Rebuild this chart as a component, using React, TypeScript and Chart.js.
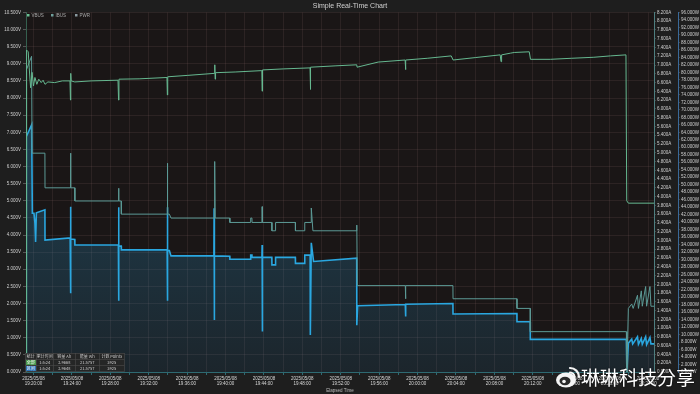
import React, { useEffect, useRef } from "react";
import { Chart, registerables } from "chart.js";

Chart.register(...registerables);

// ---------- data (time in minutes after 2025/05/08 19:20:00) ----------
const DATE_LABEL = "2025/05/08";
const START_MINUTE_OF_DAY = 19 * 60 + 20;
const X_MIN = -0.78;
const X_MAX = 64.62;

const vbusT = [
  -0.78, -0.72, -0.55, -0.45, -0.3, -0.15, 0.0, 0.15, 0.35, 0.55, 0.8, 1.0, 1.2, 1.5, 2.2, 3.0, 3.8, 3.85, 3.88,
  3.92, 4.3, 6.0, 8.8, 8.86, 8.9, 11.0, 13.9, 13.94, 13.98, 16.0, 18.85, 18.88, 18.92, 18.96, 21.0, 23.78, 23.81,
  23.85, 26.0, 28.8, 28.83, 28.87, 31.5, 33.66, 33.7, 35.9, 38.7, 38.74, 38.78, 41.0, 43.5, 43.7, 46.0, 48.6,
  48.69, 48.75, 49.68, 50.07, 51.63, 51.76, 53.83, 56.0, 58.36, 60.08, 61.7, 61.78, 61.95, 64.62,
];
const vbusV = [
  0, 9.4, 9.35, 8.9, 8.3, 8.75, 8.35, 8.6, 8.4, 8.55, 8.45, 8.52, 8.4, 8.47, 8.45, 8.5, 8.5, 7.94, 8.72, 8.5,
  8.47, 8.5, 8.52, 7.94, 8.55, 8.56, 8.6, 8.09, 8.62, 8.66, 8.72, 8.97, 8.55, 8.74, 8.76, 8.8, 8.2, 8.82, 8.85,
  8.88, 8.25, 8.9, 8.94, 8.97, 8.9, 9.05, 9.11, 8.83, 9.11, 9.16, 9.23, 9.11, 9.18, 9.26, 9.06, 9.26, 9.31, 9.33,
  9.35, 9.13, 9.13, 9.16, 9.19, 9.23, 9.26, 5.0, 4.93, 4.93,
];

const ibusT = [
  -0.78, -0.72, -0.2, -0.15, 1.19, 1.2, 3.82, 3.85, 3.9, 4.3, 4.31, 8.84, 8.86, 8.9, 9.14, 9.15, 13.92, 13.94,
  13.98, 14.15, 14.32, 18.85, 18.87, 18.92, 20.44, 20.45, 22.61, 22.62, 22.75, 22.76, 23.79, 23.81, 23.85, 24.82,
  24.83, 25.2, 25.21, 27.27, 27.28, 28.24, 28.25, 28.9, 28.93, 29.1, 33.66, 33.67, 33.72, 38.72, 38.74, 38.78,
  43.68, 43.69, 50.34, 50.35, 51.73, 51.74, 61.74, 61.8, 61.95, 62.3, 62.45, 62.9, 63.0, 63.3, 63.4, 63.75,
  63.85, 64.2, 64.3, 64.62,
];
const ibusA = [
  0, 6.9, 7.2, 4.99, 4.99, 4.2, 4.2, 4.99, 4.2, 4.2, 3.9, 3.9, 4.19, 3.9, 3.9, 3.6, 3.6, 4.76, 3.6, 3.6, 3.51,
  3.51, 4.8, 3.51, 3.51, 3.41, 3.41, 3.51, 3.51, 3.41, 3.41, 3.77, 3.41, 3.41, 3.22, 3.22, 3.41, 3.41, 3.22,
  3.22, 3.41, 3.41, 3.74, 3.22, 3.22, 3.35, 1.97, 1.97, 1.67, 1.97, 1.97, 1.67, 1.67, 1.45, 1.45, 0.92, 0.92, 0,
  1.45, 1.55, 1.45, 1.75, 1.45, 1.85, 1.5, 1.95, 1.5, 1.95, 1.5, 1.5,
];

const pwrT = [
  -0.78, -0.75, -0.19, -0.12, 0.05, 0.15, 0.22, 0.3, 1.19, 1.2, 3.82, 3.85, 3.87, 3.9, 4.3, 4.31, 8.84, 8.86,
  8.88, 8.9, 9.14, 9.15, 13.92, 13.94, 13.96, 13.98, 14.15, 14.32, 18.79, 18.81, 18.83, 18.85, 20.44, 20.45,
  22.61, 22.62, 22.75, 22.76, 23.79, 23.81, 23.83, 23.85, 24.82, 24.83, 25.2, 25.21, 27.27, 27.28, 28.24, 28.25,
  28.81, 28.83, 28.93, 29.17, 33.66, 33.67, 33.76, 38.72, 38.74, 38.78, 43.68, 43.69, 50.34, 50.35, 51.73, 51.74,
  61.74, 61.8, 61.95, 62.3, 62.4, 62.9, 63.0, 63.3, 63.4, 63.75, 63.85, 64.2, 64.3, 64.62,
];
const pwrW = [
  0, 62.8, 66.0, 42.4, 42.4, 39.7, 34.7, 42.5, 43.3, 35.2, 35.8, 44.1, 21.0, 35.5, 35.4, 33.9, 33.9, 44.0, 19.0,
  33.6, 33.6, 32.6, 32.6, 44.0, 19.0, 32.4, 32.4, 31.0, 31.0, 43.7, 13.9, 31.0, 30.9, 30.1, 30.1, 31.2, 31.2,
  30.6, 30.6, 33.9, 10.8, 30.6, 30.6, 28.6, 28.6, 30.6, 30.6, 29.0, 29.0, 31.2, 31.2, 9.9, 34.5, 29.5, 30.4,
  12.5, 17.7, 18.0, 14.8, 18.1, 18.3, 15.5, 15.6, 13.4, 13.4, 8.7, 8.7, 0, 7.7, 8.8, 7.5, 9.4, 7.4, 9.0, 7.4, 9.4,
  7.3, 9.2, 7.5, 7.5,
];

const statsHeader = ["统计", "累计时间", "容量 Ah", "能量 Wh", "计数 Points"];
const statsRows = [
  ["全部", "1:5:24", "2.9668", "21.5757", "3925"],
  ["区间", "1:5:24", "2.9648", "21.5757", "3925"],
];
const legendItems = [
  { label: "VBUS", color: "#6cc093" },
  { label: "IBUS", color: "#6f9f9b" },
  { label: "PWR", color: "#8a9aa0" },
];

// ---------- style ----------
const FONT = "'Liberation Sans', Arial, sans-serif";
const GRID = "rgba(120,88,88,0.2)";
const TXT = "#cfcfcf";
const TICK_FONT = { size: 4.5, family: FONT };

const range = (min: number, max: number, step: number) => {
  const out: number[] = [];
  const n = Math.round((max - min) / step);
  for (let i = 0; i <= n; i++) out.push(+(min + i * step).toFixed(4));
  return out;
};

const fmtTime = (m: number) => {
  const total = Math.round((START_MINUTE_OF_DAY + m) * 60);
  const h = Math.floor(total / 3600);
  const mi = Math.floor((total % 3600) / 60);
  const s = total % 60;
  const p = (v: number) => String(v).padStart(2, "0");
  return `${p(h)}:${p(mi)}:${p(s)}`;
};

const Tiny = ({ x, y, children, style }: any) => (
  <div
    style={{
      position: "absolute",
      left: x,
      top: y,
      transform: "scale(0.5)",
      transformOrigin: "0 0",
      whiteSpace: "nowrap",
      fontFamily: FONT,
      ...style,
    }}
  >
    {children}
  </div>
);

export default function App() {
  const ref = useRef<HTMLCanvasElement>(null);

  useEffect(() => {
    const canvas = ref.current!;
    const pts = (t: number[], v: number[]) => t.map((x, i) => ({ x, y: v[i] }));

    const bgPlugin = {
      id: "bgPlugin",
      beforeDraw(chart: any) {
        const { ctx, chartArea: a, width, height } = chart;
        ctx.save();
        ctx.fillStyle = "#1e1e1e";
        ctx.fillRect(0, 0, width, height);
        if (a) {
          ctx.fillStyle = "#1a1616";
          ctx.fillRect(a.left, a.top, a.right - a.left, a.bottom - a.top);
        }
        ctx.restore();
      },
    };

    const setTicks = (vals: number[]) => (s: any) => {
      s.ticks = vals.map((v) => ({ value: v }));
    };

    const chart = new Chart(canvas, {
      type: "line",
      data: {
        datasets: [
          {
            label: "VBUS",
            data: pts(vbusT, vbusV),
            yAxisID: "yV",
            borderColor: "#66b890",
            borderWidth: 1,
            pointRadius: 0,
            fill: false,
            tension: 0,
          },
          {
            label: "IBUS",
            data: pts(ibusT, ibusA),
            yAxisID: "yA",
            borderColor: "#5c9a96",
            borderWidth: 1,
            pointRadius: 0,
            fill: false,
            tension: 0,
          },
          {
            label: "PWR",
            data: pts(pwrT, pwrW),
            yAxisID: "yW",
            borderColor: "#2aa7e0",
            borderWidth: 1.6,
            pointRadius: 0,
            tension: 0,
            fill: "origin",
            backgroundColor: (c: any) => {
              const a = c.chart.chartArea;
              if (!a) return "rgba(40,140,190,0.25)";
              const g = c.chart.ctx.createLinearGradient(0, a.top, 0, a.bottom);
              g.addColorStop(0, "rgba(40,140,190,0.45)");
              g.addColorStop(1, "rgba(40,140,190,0.13)");
              return g;
            },
          },
        ],
      },
      options: {
        responsive: false,
        animation: false,
        devicePixelRatio: 1,
        layout: { padding: 0 },
        plugins: {
          legend: { display: false },
          tooltip: { enabled: false },
          title: {
            display: true,
            text: "Simple Real-Time Chart",
            color: "#d0d0d0",
            font: { size: 7, family: FONT, weight: "normal" },
            padding: { top: 2, bottom: 2 },
          },
        },
        scales: {
          x: {
            type: "linear",
            min: X_MIN,
            max: X_MAX,
            afterBuildTicks: setTicks(range(0, 64, 2)),
            afterFit: (s: any) => {
              s.height = 22;
            },
            ticks: {
              autoSkip: false,
              maxRotation: 0,
              color: "#d8d8d8",
              font: TICK_FONT,
              padding: 1,
              callback: (v: any) => (Math.round(Number(v)) % 4 === 0 ? [DATE_LABEL, fmtTime(Number(v))] : ""),
            },
            grid: { color: GRID, tickLength: 3, tickColor: "#2e6a72" },
            border: { color: "#2e6a72" },
            title: {
              display: true,
              text: "Elapsed Time",
              color: "#bdbdbd",
              font: TICK_FONT,
              padding: { top: 1, bottom: 1 },
            },
          },
          yV: {
            type: "linear",
            position: "left",
            min: 0,
            max: 10.5,
            afterBuildTicks: setTicks(range(0, 10.5, 0.5)),
            afterFit: (s: any) => {
              s.width = 26;
            },
            ticks: {
              autoSkip: false,
              color: TXT,
              font: TICK_FONT,
              padding: 2,
              callback: (v: any) => Number(v).toFixed(3) + "V",
            },
            grid: { color: GRID, tickLength: 3, tickColor: "#555" },
            border: { color: "#35604f" },
          },
          yA: {
            type: "linear",
            position: "right",
            min: 0,
            max: 8.2,
            afterBuildTicks: setTicks(range(0, 8.2, 0.2)),
            afterFit: (s: any) => {
              s.width = 24;
            },
            ticks: {
              autoSkip: false,
              color: TXT,
              font: TICK_FONT,
              padding: 1,
              callback: (v: any) => Number(v).toFixed(3) + "A",
            },
            grid: { drawOnChartArea: false, tickLength: 2, tickColor: "#444" },
            border: { color: "#4f7f80" },
          },
          yW: {
            type: "linear",
            position: "right",
            min: 0,
            max: 96,
            afterBuildTicks: setTicks(range(0, 96, 2)),
            afterFit: (s: any) => {
              s.width = 22;
            },
            ticks: {
              autoSkip: false,
              color: TXT,
              font: TICK_FONT,
              padding: 1,
              callback: (v: any) => Number(v).toFixed(3) + "W",
            },
            grid: { drawOnChartArea: false, tickLength: 2, tickColor: "#444" },
            border: { color: "#3a6a9a" },
          },
        },
      } as any,
      plugins: [bgPlugin],
    });
    return () => chart.destroy();
  }, []);

  const colW = [22, 34, 44, 48, 50];

  return (
    <div style={{ position: "fixed", left: 0, top: 0, width: 700, height: 394, background: "#1e1e1e", overflow: "hidden" }}>
      <canvas ref={ref} width={700} height={394} style={{ display: "block", width: 700, height: 394 }} />

      {/* legend */}
      {legendItems.map((it, i) => (
        <Tiny key={it.label} x={27 + i * 24} y={13.3} style={{ color: "#a8a8a8", fontSize: 9, lineHeight: "10px" }}>
          <span
            style={{
              display: "inline-block",
              width: 5,
              height: 5,
              background: it.color,
              marginRight: 4,
              verticalAlign: "middle",
              position: "relative",
              top: -1,
            }}
          />
          {it.label}
        </Tiny>
      ))}

      {/* stats table */}
      <Tiny x={25} y={353} style={{ fontSize: 8, color: "#d0d0d0" }}>
        <table
          style={{
            borderCollapse: "collapse",
            background: "rgba(38,38,38,0.92)",
            fontFamily: "'Noto Sans CJK SC', " + FONT,
            fontSize: 8,
            tableLayout: "fixed",
            width: colW.reduce((a, b) => a + b, 0),
          }}
        >
          <colgroup>
            {colW.map((w, i) => (
              <col key={i} style={{ width: w }} />
            ))}
          </colgroup>
          <tbody>
            {[statsHeader, ...statsRows].map((r, ri) => (
              <tr key={ri}>
                {r.map((c, ci) => (
                  <td
                    key={ci}
                    style={{
                      height: 11,
                      padding: 0,
                      border: "1px solid #555",
                      lineHeight: "11px",
                      textAlign: "center",
                      overflow: "hidden",
                      whiteSpace: "nowrap",
                      color: ri === 0 ? "#c8c8c8" : ci === 0 ? "#fff" : "#d6d6d6",
                      background:
                        ri > 0 && ci === 0 ? (ri === 1 ? "#4a9a4e" : "#2f74b8") : "transparent",
                    }}
                  >
                    {c}
                  </td>
                ))}
              </tr>
            ))}
          </tbody>
        </table>
      </Tiny>

      {/* watermark */}
      <div style={{ position: "absolute", left: 555, top: 365, width: 26, height: 24 }}>
        <svg width="26" height="24" viewBox="0 0 26 24">
          <ellipse cx="11" cy="15" rx="10" ry="7.5" fill="#f4f4f4" />
          <ellipse cx="10" cy="16" rx="5.5" ry="4.2" fill="#2a2a2a" />
          <circle cx="9" cy="16.5" r="1.8" fill="#f4f4f4" />
          <path d="M15 3 A9 9 0 0 1 24 12" stroke="#f4f4f4" strokeWidth="2.2" fill="none" strokeLinecap="round" />
          <path d="M15 7.5 A4.5 4.5 0 0 1 19.5 12" stroke="#f4f4f4" strokeWidth="2" fill="none" strokeLinecap="round" />
        </svg>
      </div>
      <div
        style={{
          position: "absolute",
          left: 581,
          top: 366,
          fontSize: 19,
          lineHeight: "22px",
          color: "#ffffff",
          fontFamily: "'Noto Sans CJK SC', sans-serif",
          whiteSpace: "nowrap",
          textShadow: "0 0 2px rgba(0,0,0,0.8)",
        }}
      >
        琳琳科技分享
      </div>
    </div>
  );
}
